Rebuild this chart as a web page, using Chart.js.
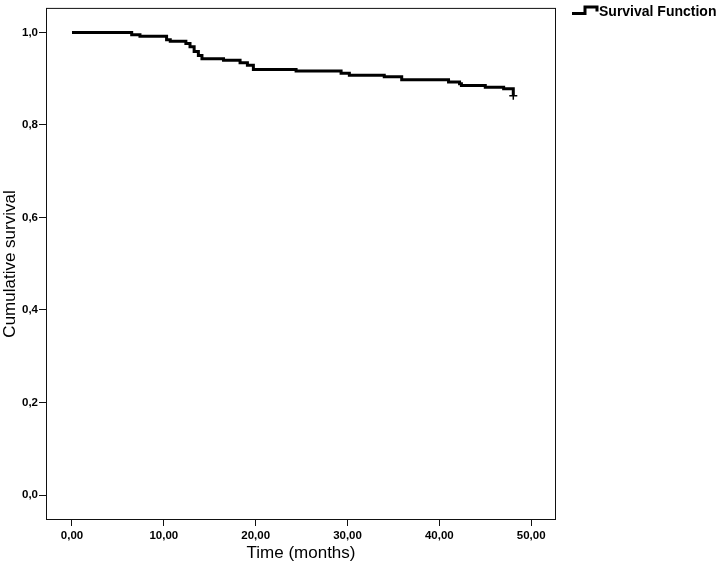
<!DOCTYPE html>
<html>
<head>
<meta charset="utf-8">
<script src="https://cdn.jsdelivr.net/npm/chart.js@4"></script>
<style>html,body{margin:0;padding:0;background:#fff}</style>
</head>
<body>
<canvas id="kmChart" width="719" height="565"></canvas>
<script>
// Kaplan-Meier steps
const times = [0, 6.5, 7.4, 10.3, 10.7, 12.4, 12.85, 13.3, 13.76, 14.15, 16.5, 18.3, 19.1, 19.75, 24.4, 29.3, 30.2, 34.0, 35.9, 41.0, 42.2, 42.4, 45.0, 47.0, 48.05];
const survival = [1.0, 0.995, 0.9915, 0.984, 0.981, 0.976, 0.969, 0.959, 0.950, 0.943, 0.9396, 0.9345, 0.929, 0.920, 0.9165, 0.912, 0.9075, 0.904, 0.8975, 0.893, 0.889, 0.8855, 0.8815, 0.878, 0.863];
const censorTimes = [48.05];
const censorSurvival = [0.863];
const xTicks = [0, 10, 20, 30, 40, 50];
const yTicks = [0, 0.2, 0.4, 0.6, 0.8, 1.0];

const FONT = "'Liberation Sans', Arial, Helvetica, sans-serif";

const framePlugin = {
  id: "frame",
  afterDraw(chart) {
    const { ctx, chartArea: a } = chart;
    ctx.save();
    ctx.strokeStyle = "#111";
    ctx.lineWidth = 1;
    ctx.strokeRect(a.left + 0.5, a.top + 0.5, a.right - a.left - 1, a.bottom - a.top - 1);

    // legend: step glyph + label
    ctx.strokeStyle = "#000";
    ctx.lineWidth = 3;
    ctx.lineJoin = "miter";
    ctx.beginPath();
    ctx.moveTo(572, 13.5);
    ctx.lineTo(585, 13.5);
    ctx.lineTo(585, 7);
    ctx.lineTo(597, 7);
    ctx.lineTo(597, 11.5);
    ctx.stroke();
    ctx.fillStyle = "#000";
    ctx.font = "bold 14px " + FONT;
    ctx.textBaseline = "alphabetic";
    ctx.textAlign = "left";
    ctx.fillText("Survival Function", 599, 16);
    ctx.restore();
  }
};

new Chart(document.getElementById("kmChart"), {
  type: "line",
  data: {
    datasets: [{
      label: "Survival Function",
      data: times.map((t, i) => ({ x: t, y: survival[i] })),
      stepped: true,
      borderColor: "#000",
      borderWidth: 3,
      pointRadius: 0,
      fill: false
    }, {
      label: "Censored",
      data: censorTimes.map((t, i) => ({ x: t, y: censorSurvival[i] })),
      showLine: false,
      pointStyle: "cross",
      pointRadius: 4,
      borderColor: "#000",
      borderWidth: 1.5
    }]
  },
  options: {
    responsive: false,
    animation: false,
    layout: { padding: { top: 1, right: 163, left: 0, bottom: 0 } },
    plugins: { legend: { display: false }, tooltip: { enabled: false } },
    scales: {
      x: {
        type: "linear",
        min: -2.83,
        max: 52.7,
        afterBuildTicks: s => { s.ticks = xTicks.map(v => ({ value: v })); },
        afterFit: s => { s.height = 45; },
        border: { display: false },
        grid: { drawOnChartArea: false, drawTicks: true, tickLength: 6, color: "#111", lineWidth: 1 },
        ticks: {
          autoSkip: false, maxRotation: 0, padding: 3, color: "#000",
          font: { family: FONT, size: 11.5, weight: "bold" },
          callback: v => v.toFixed(2).replace(".", ",")
        },
        title: {
          display: true, text: "Time (months)", color: "#000",
          font: { family: FONT, size: 17 }, padding: { top: 0, bottom: 1 }
        }
      },
      y: {
        min: -0.054,
        max: 1.053,
        afterBuildTicks: s => { s.ticks = yTicks.map(v => ({ value: v })); },
        afterFit: s => { s.width = 46; },
        border: { display: false },
        grid: { drawOnChartArea: false, drawTicks: true, tickLength: 7, color: "#111", lineWidth: 1 },
        ticks: {
          padding: 1, color: "#000",
          font: { family: FONT, size: 11.5, weight: "bold" },
          callback: v => v.toFixed(1).replace(".", ",")
        },
        title: {
          display: true, text: "Cumulative survival", color: "#000",
          font: { family: FONT, size: 17 }, padding: { top: 0, bottom: 0 }
        }
      }
    }
  },
  plugins: [framePlugin]
});
</script>
</body>
</html>
